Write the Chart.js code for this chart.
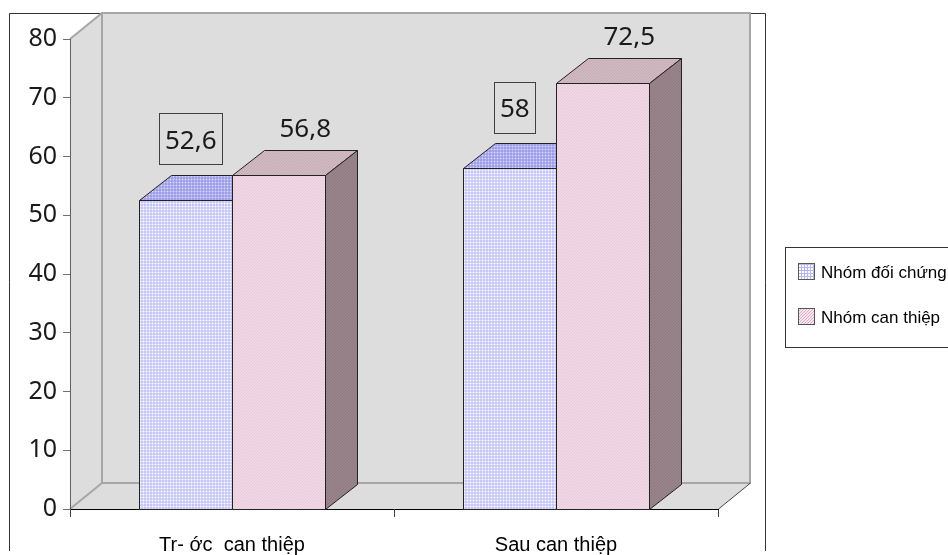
<!DOCTYPE html>
<html>
<head>
<meta charset="utf-8">
<title>Nhóm đối chứng / Nhóm can thiệp</title>
<script src="https://cdn.jsdelivr.net/npm/chart.js@4.4.1/dist/chart.umd.min.js"></script>
<style>
  html, body { margin: 0; padding: 0; background: #fff; }
  canvas { display: block; }
</style>
</head>
<body>
<canvas id="chart" width="948" height="555"></canvas>
<script>
'use strict';

// ── Data ───────────────────────────────────────────────────────────────────
const CATEGORIES = ['Tr- ớc  can thiệp', 'Sau can thiệp'];
const SERIES_NAMES = ['Nhóm đối chứng', 'Nhóm can thiệp'];
const CONTROL_VALUES = [52.6, 58];
const INTERVENTION_VALUES = [56.8, 72.5];
const Y_MIN = 0;
const Y_MAX = 80;
const Y_STEP = 10;

// ── Look ───────────────────────────────────────────────────────────────────
const WALL_DX = 32, WALL_DY = 26;   // depth of the 3D back wall
const BAR_DX = 32, BAR_DY = 25;     // depth of each 3D bar
const WALL_FILL = '#dddddd';
const WALL_EDGE = '#a6a6a6';

function makeTile(size, bg, fg, paint) {
    const c = document.createElement('canvas');
    c.width = c.height = size;
    const g = c.getContext('2d');
    g.fillStyle = bg;
    g.fillRect(0, 0, size, size);
    g.fillStyle = fg;
    paint(g, size);
    return c.getContext('2d').createPattern(c, 'repeat');
}
function grid(bg, fg) {
    return makeTile(3, bg, fg, (g, s) => { g.fillRect(0, 0, s, 1); g.fillRect(0, 0, 1, s); });
}
function diag(bg, fg) {
    return makeTile(3, bg, fg, (g, s) => { for (let i = 0; i < s; i++) g.fillRect(i, s - 1 - i, 1, 1); });
}

const FACES = [
    { front: grid('#ffffff', '#b6b6f6'), top: grid('#dadaf8', '#8a8ae4'), side: grid('#a4a4d8', '#7676b6') },
    { front: diag('#f9e7f0', '#dcaec4'), top: diag('#dcc6ce', '#b0929e'), side: diag('#a28e94', '#7a666e') },
];
// per-series data label placement, relative to the bar's front top centre
const LABEL_STYLE = [
    { dx: 5, dy: -61, boxed: true },
    { dx: 27, dy: -48, boxed: false },
];

function poly(ctx, pts, fill, stroke, lw) {
    ctx.beginPath();
    pts.forEach(([x, y], i) => (i ? ctx.lineTo(x, y) : ctx.moveTo(x, y)));
    ctx.closePath();
    if (fill) { ctx.fillStyle = fill; ctx.fill(); }
    if (stroke) { ctx.strokeStyle = stroke; ctx.lineWidth = lw || 1; ctx.stroke(); }
}
function line(ctx, x0, y0, x1, y1, color, lw) {
    ctx.beginPath();
    ctx.moveTo(x0, y0);
    ctx.lineTo(x1, y1);
    ctx.strokeStyle = color;
    ctx.lineWidth = lw || 1;
    ctx.stroke();
}
const fmt = v => String(v).replace('.', ',');

// ── Plugin: walls, 3D bars, labels, legend ─────────────────────────────────
const box3d = {
    id: 'box3d',
    beforeDraw(chart) {
        const ctx = chart.ctx;
        const { left, right, top, bottom } = chart.chartArea;
        ctx.save();
        ctx.fillStyle = '#ffffff';
        ctx.fillRect(0, 0, chart.width, chart.height);

        // outer chart frame
        ctx.beginPath();
        ctx.moveTo(9.5, 551);
        ctx.lineTo(9.5, 13.5);
        ctx.lineTo(765.5, 13.5);
        ctx.lineTo(765.5, 551);
        ctx.strokeStyle = '#333333';
        ctx.lineWidth = 1;
        ctx.stroke();

        // side wall, floor and back wall
        const bl = left + WALL_DX, bt = top - WALL_DY, br = right + WALL_DX, bb = bottom - WALL_DY;
        poly(ctx, [[left, top], [bl, bt], [bl, bb], [left, bottom]], WALL_FILL);
        poly(ctx, [[left, bottom], [bl, bb], [br, bb], [right, bottom]], WALL_FILL);
        ctx.fillStyle = WALL_FILL;
        ctx.fillRect(bl, bt, br - bl, bb - bt);
        ctx.strokeStyle = WALL_EDGE;
        ctx.lineWidth = 2;
        ctx.strokeRect(bl, bt, br - bl, bb - bt);
        line(ctx, left, top, bl, bt, WALL_EDGE, 2);
        line(ctx, left, bottom, bl, bb, WALL_EDGE, 2);
        line(ctx, right + 0.5, bottom, br + 0.5, bb, '#404040', 1);
        ctx.restore();
    },
    afterDatasetsDraw(chart) {
        const ctx = chart.ctx;
        ctx.save();
        ctx.translate(0.5, 0.5);
        const n = chart.data.labels.length;
        for (let i = 0; i < n; i++) {
            chart.data.datasets.forEach((ds, d) => {
                const el = chart.getDatasetMeta(d).data[i];
                const p = el.getProps(['x', 'y', 'base', 'width'], true);
                const x0 = Math.round(p.x - p.width / 2), x1 = Math.round(p.x + p.width / 2);
                const yt = Math.round(p.y), yb = Math.round(p.base);
                const f = FACES[d];
                poly(ctx, [[x0, yt], [x1, yt], [x1, yb], [x0, yb]], f.front, '#222222');
                poly(ctx, [[x0, yt], [x0 + BAR_DX, yt - BAR_DY], [x1 + BAR_DX, yt - BAR_DY], [x1, yt]], f.top, '#222222');
                poly(ctx, [[x1, yt], [x1 + BAR_DX, yt - BAR_DY], [x1 + BAR_DX, yb - BAR_DY], [x1, yb]], f.side, '#222222');
            });
        }
        ctx.restore();

        // data labels
        ctx.save();
        ctx.font = '26px "Noto Sans"';
        ctx.textAlign = 'center';
        ctx.textBaseline = 'alphabetic';
        chart.data.datasets.forEach((ds, d) => {
            const st = LABEL_STYLE[d];
            chart.getDatasetMeta(d).data.forEach((el, i) => {
                const p = el.getProps(['x', 'y'], true);
                const text = fmt(ds.data[i]);
                const cx = p.x + st.dx, cy = p.y + st.dy;
                if (st.boxed) {
                    const w = Math.round(ctx.measureText(text).width + 11), h = 51;
                    ctx.strokeStyle = '#404040';
                    ctx.lineWidth = 1;
                    ctx.strokeRect(Math.round(cx - w / 2) + 0.5, Math.round(cy - h / 2) + 0.5, w, h);
                }
                ctx.fillStyle = '#1a1a1a';
                ctx.fillText(text, cx, cy + 10);
            });
        });
        ctx.restore();
    },
    afterDraw(chart) {
        // legend box on the right
        const ctx = chart.ctx;
        ctx.save();
        ctx.fillStyle = '#ffffff';
        ctx.fillRect(785.5, 247.5, 200, 100);
        ctx.strokeStyle = '#333333';
        ctx.lineWidth = 1;
        ctx.strokeRect(785.5, 247.5, 200, 100);
        ctx.font = '17px "Liberation Sans"';
        ctx.textAlign = 'left';
        ctx.textBaseline = 'middle';
        chart.data.datasets.forEach((ds, d) => {
            const y = 272 + d * 45;
            ctx.fillStyle = FACES[d].front;
            ctx.fillRect(798, y - 9, 17, 17);
            ctx.strokeStyle = '#555555';
            ctx.strokeRect(798.5, y - 8.5, 16, 16);
            ctx.fillStyle = '#000000';
            ctx.fillText(ds.label, 821, y + 1);
        });
        ctx.restore();
    },
};

new Chart(document.getElementById('chart'), {
    type: 'bar',
    data: {
        labels: CATEGORIES,
        datasets: [
            { label: SERIES_NAMES[0], data: CONTROL_VALUES, backgroundColor: FACES[0].front, borderWidth: 0 },
            { label: SERIES_NAMES[1], data: INTERVENTION_VALUES, backgroundColor: FACES[1].front, borderWidth: 0 },
        ],
    },
    options: {
        responsive: false,
        animation: false,
        devicePixelRatio: 1,
        layout: { padding: { top: 39, right: 230, bottom: 0, left: 0 } },
        datasets: { bar: { categoryPercentage: 0.571, barPercentage: 1 } },
        plugins: { legend: { display: false }, tooltip: { enabled: false } },
        scales: {
            x: {
                afterFit: s => { s.height = 46; },
                grid: { drawOnChartArea: false, drawTicks: true, tickLength: 8, color: '#404040' },
                border: { display: true, color: '#000000' },
                ticks: {
                    font: { family: 'Liberation Sans', size: 20 },
                    color: '#000000',
                    padding: 16,
                    maxRotation: 0,
                    autoSkip: false,
                },
            },
            y: {
                min: Y_MIN,
                max: Y_MAX,
                afterFit: s => { s.width = 70; },
                grid: { drawOnChartArea: false, drawTicks: true, tickLength: 7, color: '#707070' },
                border: { display: true, color: '#606060' },
                ticks: {
                    stepSize: Y_STEP,
                    font: { family: 'Noto Sans', size: 25 },
                    color: '#1a1a1a',
                    padding: 6,
                },
            },
        },
    },
    plugins: [box3d],
});
</script>
</body>
</html>
